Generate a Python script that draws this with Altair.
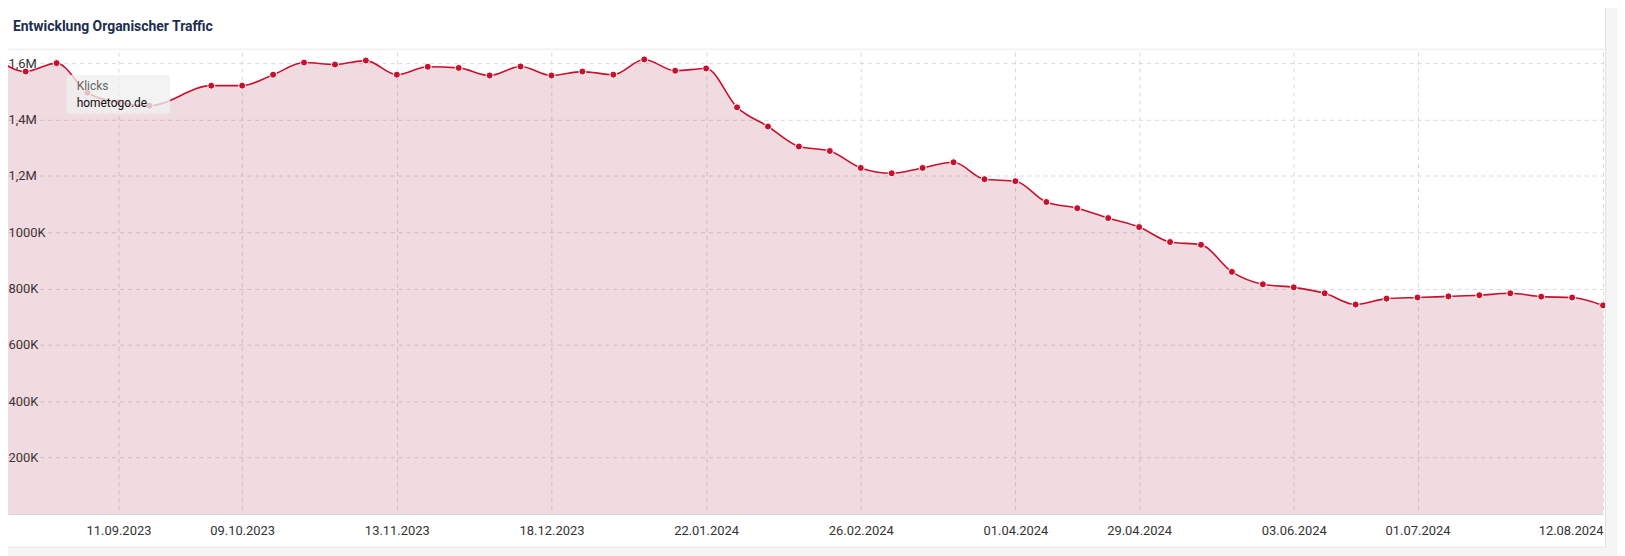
import altair as alt
import pandas as pd

# ---- data (weekly) ----
dates = [
    "2023-08-14", "2023-08-21", "2023-08-28", "2023-09-04", "2023-09-11", "2023-09-18",
    "2023-10-02", "2023-10-09", "2023-10-16", "2023-10-23", "2023-10-30", "2023-11-06",
    "2023-11-13", "2023-11-20", "2023-11-27", "2023-12-04", "2023-12-11", "2023-12-18",
    "2023-12-25", "2024-01-01", "2024-01-08", "2024-01-15", "2024-01-22", "2024-01-29",
    "2024-02-05", "2024-02-12", "2024-02-19", "2024-02-26", "2024-03-04", "2024-03-11",
    "2024-03-18", "2024-03-25", "2024-04-01", "2024-04-08", "2024-04-15", "2024-04-22",
    "2024-04-29", "2024-05-06", "2024-05-13", "2024-05-20", "2024-05-27", "2024-06-03",
    "2024-06-10", "2024-06-17", "2024-06-24", "2024-07-01", "2024-07-08", "2024-07-15",
    "2024-07-22", "2024-07-29", "2024-08-05", "2024-08-12",
]
clicks = [
    1620000, 1570000, 1600000, 1495000, 1460000, 1449000,
    1520000, 1520000, 1559000, 1602000, 1595000, 1609000,
    1559000, 1587000, 1583000, 1556000, 1588000, 1556000,
    1570000, 1559000, 1613000, 1573000, 1581000, 1443000,
    1375000, 1304000, 1288000, 1228000, 1209000, 1228000,
    1248000, 1188000, 1181000, 1107000, 1085000, 1050000,
    1018000, 965000, 955000, 859000, 815000, 804000,
    783000, 743000, 764000, 768000, 772000, 776000,
    783000, 771000, 768000, 740000,
]
x_tick_dates = [
    "2023-09-11", "2023-10-09", "2023-11-13", "2023-12-18", "2024-01-22", "2024-02-26",
    "2024-04-01", "2024-04-29", "2024-06-03", "2024-07-01", "2024-08-12",
]
y_ticks = [200000, 400000, 600000, 800000, 1000000, 1200000, 1400000, 1600000]
x_domain = ["2023-08-17", "2024-08-12"]
y_domain = [0, 1639000]

title_text = "Entwicklung Organischer Traffic"
legend_label = "Klicks"
legend_series = "hometogo.de"


def ms(d):
    return int(pd.Timestamp(d, tz="UTC").value // 10**6)


df = pd.DataFrame({"date": dates, "clicks": clicks})

RED = "#c8102e"
GRID = "#d9d9d9"
FONT = "Roboto"

x_enc = alt.X(
    "date:T",
    title=None,
    scale=alt.Scale(type="utc", domain=[ms(d) for d in x_domain]),
    axis=alt.Axis(
        values=[ms(d) for d in x_tick_dates],
        labelExpr="utcFormat(datum.value, '%d.%m.%Y')",
        grid=True, gridDash=[4, 4], gridColor=GRID, gridWidth=1,
        ticks=False, tickSize=0,
        domain=True, domainColor="#cfcfcf", domainWidth=1,
        labelPadding=11, labelFlush=True, labelOverlap=False,
        labelFont=FONT, labelFontSize=13, labelColor="#333333",
    ),
)
y_enc = alt.Y(
    "clicks:Q",
    title=None,
    scale=alt.Scale(domain=y_domain, nice=False, zero=True),
    axis=alt.Axis(
        values=y_ticks,
        labelExpr="datum.value >= 1100000 ? replace(format(datum.value/1000000, '.1f'), '.', ',') + 'M' : format(datum.value/1000, 'd') + 'K'",
        grid=True, gridDash=[4, 4], gridColor=GRID, gridWidth=1,
        ticks=False, tickSize=0, domain=False,
        labelAlign="left", labelBaseline="middle", labelPadding=0,
        labelFont=FONT, labelFontSize=13, labelColor="#333333",
    ),
)

base = alt.Chart(df)
area = base.mark_area(interpolate="monotone", color="#a3283c", fillOpacity=0.16).encode(x=x_enc, y=y_enc)
line = base.mark_line(interpolate="monotone", color=RED, strokeWidth=1.6).encode(x="date:T", y="clicks:Q")
points = base.mark_circle(size=50, color=RED, opacity=1, stroke="white", strokeWidth=1).encode(
    x="date:T", y="clicks:Q"
)

one = alt.Data(values=[{"k": 1}])

title = alt.Chart(one).mark_text(
    text=title_text, font=FONT, fontSize=14, fontWeight="bold", color="#1c2d50",
    align="left", baseline="alphabetic",
).encode(x=alt.value(5), y=alt.value(-21.5))

header_line = alt.Chart(one).mark_rule(color="#ebebeb", strokeWidth=1).encode(
    x=alt.value(-8), x2=alt.value(1605), y=alt.value(-3)
)

outside_right = alt.Chart(one).mark_rect(color="#f5f5f5").encode(
    x=alt.value(1606), x2=alt.value(1620), y=alt.value(-45), y2=alt.value(510)
)
outside_bottom = alt.Chart(one).mark_rect(color="#f5f5f5").encode(
    x=alt.value(-8), x2=alt.value(1620), y=alt.value(497.5), y2=alt.value(510)
)
card_right = alt.Chart(one).mark_rule(color="#e3e3e3", strokeWidth=1).encode(
    x=alt.value(1605.5), y=alt.value(-45), y2=alt.value(497.5)
)
card_bottom = alt.Chart(one).mark_rule(color="#e3e3e3", strokeWidth=1).encode(
    x=alt.value(-8), x2=alt.value(1605.5), y=alt.value(497.5)
)

legend_box = alt.Chart(one).mark_rect(color="#efefef", opacity=0.78, cornerRadius=3).encode(
    x=alt.value(59), x2=alt.value(163), y=alt.value(23), y2=alt.value(62)
)
legend_t1 = alt.Chart(one).mark_text(
    text=legend_label, font=FONT, fontSize=12, color="#666666", align="left", baseline="middle"
).encode(x=alt.value(69), y=alt.value(34))
legend_t2 = alt.Chart(one).mark_text(
    text=legend_series, font=FONT, fontSize=12, color="#111111", align="left", baseline="middle"
).encode(x=alt.value(69), y=alt.value(51))

chart = alt.layer(
    area, line, points,
    title, header_line,
    outside_right, outside_bottom, card_right, card_bottom,
    legend_box, legend_t1, legend_t2,
).properties(
    width=1603,
    height=464,
    padding={"left": 0, "top": 43, "right": 14, "bottom": 41},
    autosize=alt.AutoSizeParams(type="none"),
    background="white",
).configure_view(stroke=None)

chart.save("out.html", embed_options={"renderer": "svg", "actions": False})
